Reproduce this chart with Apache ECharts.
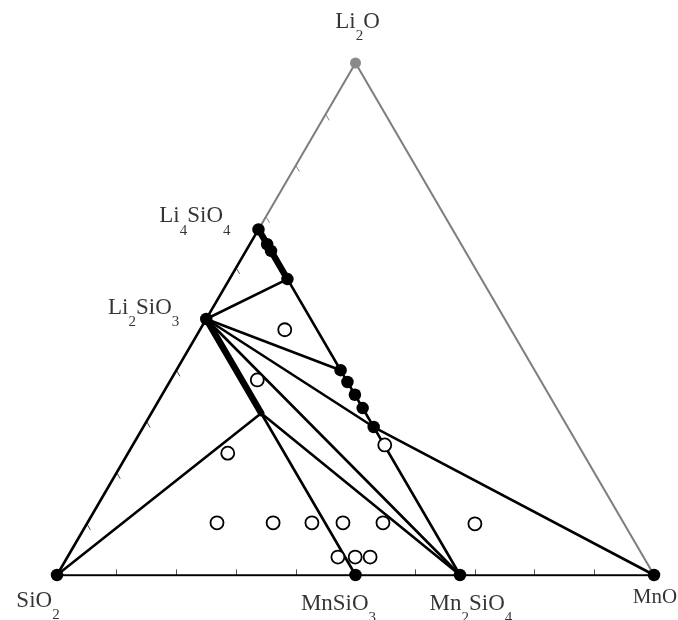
<!DOCTYPE html>
<html><head><meta charset="utf-8">
<script src="https://cdn.jsdelivr.net/npm/echarts@6/dist/echarts.min.js"></script>
<style>html,body{margin:0;padding:0;background:#fff}#c{width:678px;height:620px}</style>
</head><body><div id="c"></div>
<script>
// Compositions as [Li2O fraction, MnO fraction]; SiO2 = 1 - both
const points = {
  Li2O: [1, 0], MnO: [0, 1], SiO2: [0, 0],
  Li4SiO4: [0.675, 0], Li2SiO3: [0.5, 0], MnSiO3: [0, 0.5], Mn2SiO4: [0, 0.675],
  J1: [0.646, 0.029], J2: [0.633, 0.042], J3: [0.578, 0.097],
  D1: [0.400, 0.275], D2: [0.377, 0.298], D3: [0.352, 0.323], D4: [0.326, 0.349], D5: [0.289, 0.386],
  P: [0.316, 0.184]
};
const filledDots = ['SiO2', 'MnO', 'Li4SiO4', 'Li2SiO3', 'MnSiO3', 'Mn2SiO4', 'J1', 'J2', 'J3', 'D1', 'D2', 'D3', 'D4', 'D5'];
const grayDots = ['Li2O'];
const openCircles = [
  [0.479, 0.142], [0.381, 0.145], [0.254, 0.422], [0.238, 0.167],
  [0.102, 0.217], [0.102, 0.311], [0.102, 0.376], [0.102, 0.428], [0.102, 0.495], [0.100, 0.650],
  [0.035, 0.453], [0.035, 0.482], [0.035, 0.507]
];
const grayLines = [['Li2O', 'Li4SiO4'], ['Li2O', 'MnO']];
const blackLines = [
  ['SiO2', 'MnO'], ['SiO2', 'Li4SiO4'], ['Li4SiO4', 'Mn2SiO4'],
  ['Li2SiO3', 'J3'], ['Li2SiO3', 'D1'], ['Li2SiO3', 'D5'], ['D5', 'MnO'],
  ['Li2SiO3', 'Mn2SiO4'], ['P', 'Mn2SiO4'], ['Li2SiO3', 'MnSiO3'], ['SiO2', 'P']
];
const thickLines = [['Li4SiO4', 'J3'], ['Li2SiO3', 'P']];
const tickValues = [0.1, 0.2, 0.3, 0.4, 0.5, 0.6, 0.7, 0.8, 0.9];
const labels = [
  { at: 'Li2O', text: '{m|Li}{s|2}{m|O}', dx: 2, dy: -41, align: 'center' },
  { at: 'Li4SiO4', text: '{m|Li}{s|4}{m|SiO}{s|4}', dx: -28, dy: -13, align: 'right' },
  { at: 'Li2SiO3', text: '{m|Li}{s|2}{m|SiO}{s|3}', dx: -27, dy: -11, align: 'right' },
  { at: 'SiO2', text: '{m|SiO}{s|2}', dx: -19, dy: 26, align: 'center' },
  { at: 'MnSiO3', text: '{m|MnSiO}{s|3}', dx: -17, dy: 29, align: 'center' },
  { at: 'Mn2SiO4', text: '{m|Mn}{s|2}{m|SiO}{s|4}', dx: 11, dy: 29, align: 'center' },
  { at: 'MnO', text: '{t|MnO}', dx: 1, dy: 22, align: 'center' }
];

function xy(c) { return [c[1] + c[0] / 2, c[0]]; }
function seg(pair) { return { coords: [xy(points[pair[0]]), xy(points[pair[1]])] }; }

const leftTicks = tickValues.map(v => ({
  coords: [xy([v, 0]), xy([v - 0.012, 0.012])],
  lineStyle: { color: v > 0.675 ? '#888' : '#555' }
}));
const bottomTicks = tickValues.map(v => ({ coords: [xy([0, v]), xy([0.011, v - 0.0055])] }));

const serif = 'Liberation Serif, Times New Roman, serif';
const rich = {
  m: { fontFamily: serif, fontSize: 23, lineHeight: 44, verticalAlign: 'middle', color: '#000', textBorderWidth: 0 },
  s: { fontFamily: serif, fontSize: 15, lineHeight: 44, verticalAlign: 'bottom', color: '#000', textBorderWidth: 0 },
  t: { fontFamily: serif, fontSize: 21, lineHeight: 30, verticalAlign: 'middle', color: '#000', textBorderWidth: 0 }
};

const chart = echarts.init(document.getElementById('c'), null, { renderer: 'canvas' });
chart.setOption({
  animation: false,
  backgroundColor: '#fff',
  grid: { left: 57, top: 63, width: 597, height: 512 },
  xAxis: { type: 'value', min: 0, max: 1, show: false },
  yAxis: { type: 'value', min: 0, max: 1, show: false },
  series: [
    { type: 'lines', coordinateSystem: 'cartesian2d', silent: true, z: 1,
      lineStyle: { color: '#7d7d7d', width: 2, opacity: 1 }, data: grayLines.map(seg) },
    { type: 'lines', coordinateSystem: 'cartesian2d', silent: true, z: 2,
      lineStyle: { color: '#555', width: 1, opacity: 1 }, data: leftTicks.concat(bottomTicks) },
    { type: 'lines', coordinateSystem: 'cartesian2d', silent: true, z: 3,
      lineStyle: { color: '#000', width: 2.6, opacity: 1, cap: 'round' }, data: blackLines.map(seg) },
    { type: 'lines', coordinateSystem: 'cartesian2d', silent: true, z: 4,
      lineStyle: { color: '#000', width: 6.5, opacity: 1, cap: 'round' }, data: thickLines.map(seg) },
    { type: 'scatter', silent: true, z: 5, symbol: 'circle', symbolSize: 13,
      itemStyle: { color: '#fff', borderColor: '#000', borderWidth: 1.8, opacity: 1 },
      data: openCircles.map(xy) },
    { type: 'scatter', silent: true, z: 6, symbol: 'circle', symbolSize: 12.5,
      itemStyle: { color: '#000', opacity: 1 }, data: filledDots.map(n => xy(points[n])) },
    { type: 'scatter', silent: true, z: 6, symbol: 'circle', symbolSize: 11,
      itemStyle: { color: '#8a8a8a', opacity: 1 }, data: grayDots.map(n => xy(points[n])) },
    { type: 'scatter', silent: true, z: 7, symbolSize: 1,
      itemStyle: { color: 'rgba(0,0,0,0)' },
      data: labels.map(l => ({
        value: xy(points[l.at]),
        label: { show: true, position: 'inside', offset: [l.dx, l.dy], align: l.align,
                 verticalAlign: 'middle', color: '#000', textBorderWidth: 0,
                 formatter: l.text, rich: rich }
      })) }
  ]
});
</script></body></html>
